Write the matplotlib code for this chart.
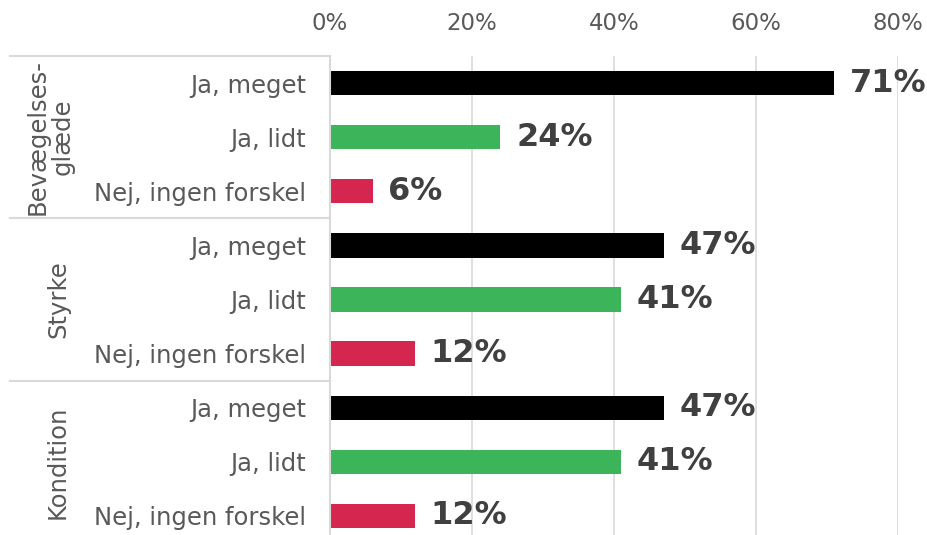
import matplotlib.pyplot as plt
from matplotlib.transforms import blended_transform_factory

# data
grupper = ["Bevægelses-\nglæde", "Styrke", "Kondition"]
svar = ["Ja, meget", "Ja, lidt", "Nej, ingen forskel"]
bevaegelse = [71, 24, 6]
styrke = [47, 41, 12]
kondition = [47, 41, 12]
farver = ["#000000", "#3cb55a", "#d4264f"]
ticks = [0, 20, 40, 60, 80]

vaerdier = bevaegelse + styrke + kondition
labels = svar * 3
cols = farver * 3
pos = list(range(len(vaerdier)))

fig = plt.figure(figsize=(9.28, 5.35), dpi=100)
ax = fig.add_axes([330 / 928, -8 / 535, 568 / 928, (535 - 56 + 8) / 535])

ax.barh(pos, vaerdier, height=0.45, color=cols)
for p, v in zip(pos, vaerdier):
    ax.text(v + 2.2, p, f"{v}%", va="center", ha="left", fontsize=23,
            fontweight="bold", color="#404040", clip_on=False)

ax.set_xlim(0, 80)
ax.set_ylim(8.5, -0.5)
ax.set_xticks(ticks)
ax.set_xticklabels([f"{t}%" for t in ticks])
ax.xaxis.tick_top()
ax.tick_params(axis="x", length=0, pad=15, labelsize=16.5, labelcolor="#595959")
ax.set_yticks(pos)
ax.set_yticklabels(labels)
ax.tick_params(axis="y", length=0, pad=17, labelsize=17.5, labelcolor="#595959")
ax.grid(axis="x", color="#d9d9d9", linewidth=1.2)
ax.set_axisbelow(True)
for s in ["top", "right", "bottom"]:
    ax.spines[s].set_visible(False)
ax.spines["left"].set_color("#d9d9d9")
ax.spines["left"].set_linewidth(1.5)

# group separators and group names
tr = blended_transform_factory(fig.transFigure, ax.transData)
for i, g in enumerate(grupper):
    y0 = i * 3 - 0.5
    ax.plot([10 / 928, 330 / 928], [y0, y0], color="#d9d9d9", lw=1.5,
            transform=tr, clip_on=False)
    xg = 50 / 928 if "\n" in g else 58 / 928
    ax.text(xg, i * 3 + 1, g, rotation=90, ha="center", va="center",
            fontsize=17.5, color="#595959", transform=tr,
            multialignment="center", linespacing=1.05)

fig.savefig("out.png", dpi=100)
